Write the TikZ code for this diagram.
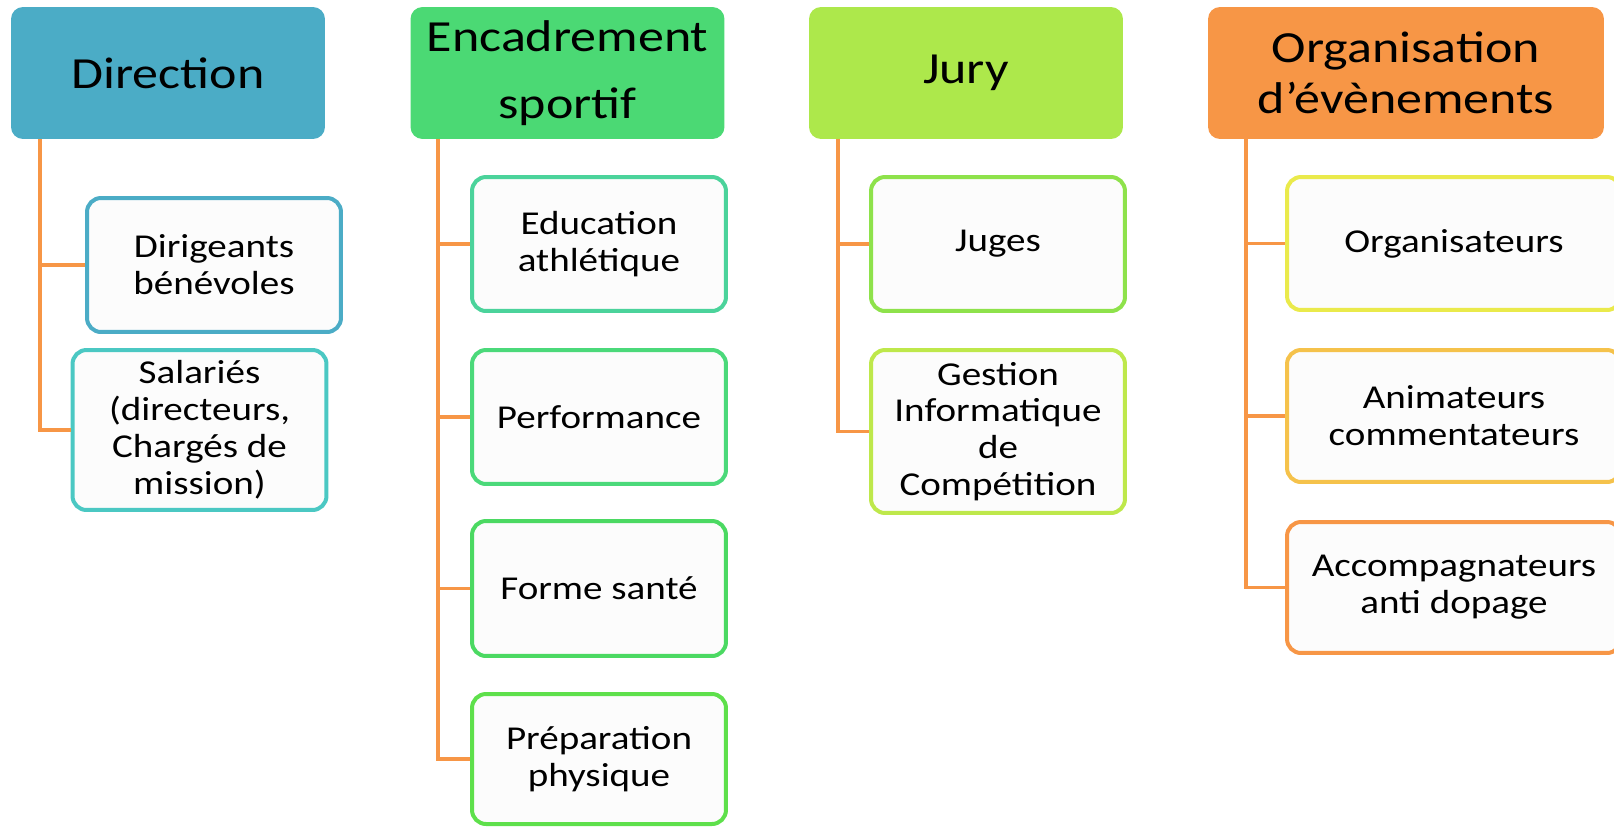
\documentclass[tikz,border=0pt]{standalone}
\usepackage{fontspec}
\setmainfont{Carlito}[FakeStretch=1.17]

\definecolor{dircol}{HTML}{4BACC6}
\definecolor{salarcol}{HTML}{4BC8C3}
\definecolor{enccol}{HTML}{4BD974}
\definecolor{educol}{HTML}{4BD39B}
\definecolor{perfcol}{HTML}{4BD97A}
\definecolor{formecol}{HTML}{4BD962}
\definecolor{prepcol}{HTML}{5EE04B}
\definecolor{jurycol}{HTML}{ADE84B}
\definecolor{jugescol}{HTML}{8EE24B}
\definecolor{gestcol}{HTML}{BEE84B}
\definecolor{orgcol}{HTML}{F79646}
\definecolor{orgscol}{HTML}{EAEA4B}
\definecolor{animcol}{HTML}{F5C24B}
\definecolor{linecol}{HTML}{F79646}
\definecolor{itemfill}{HTML}{FCFCFC}

\begin{document}
\begin{tikzpicture}[
		x=0.02cm, y=-0.02cm,
		head/.style={
			rectangle,
			rounded corners=0.24cm,
			inner sep=0pt,
			minimum width=6.28cm,
			minimum height=2.64cm,
			align=center,
			font=\fontsize{25.3}{29}\selectfont},
		item/.style={
			rectangle,
			rounded corners=0.28cm,
			line width=0.08cm,
			fill=itemfill,
			inner sep=0pt,
			minimum width=5.08cm,
			minimum height=2.68cm,
			align=center,
			font=\fontsize{19}{21}\selectfont},
		branch/.style={
			draw=linecol,
			line width=0.075cm},
		]

		\useasboundingbox (0,0) rectangle (1614,826);
		\clip (0,0) rectangle (1614,826);

		%Direction
		\node (direction)[head, fill=dircol] at (168,73) {Direction};
		\coordinate (dirtrunk) at ([xshift=0.58cm]direction.south west);
		\foreach \name/\txt/\x/\y/\h/\col in {dirig/{Dirigeants\\bénévoles}/214/265/2.68/dircol, salar/{Salariés\\(directeurs,\\Chargés de\\mission)}/199.5/430/3.2/salarcol}{
			\node (\name)[item, draw=\col, minimum height=\h cm] at (\x,\y) {\txt};
			\draw[branch] (dirtrunk) |- (\name.west);
		}

		%Encadrement sportif
		\node (encadr)[head, fill=enccol, font=\fontsize{25.3}{38.5}\selectfont] at (567.5,73) {Encadrement\\sportif};
		\coordinate (enctrunk) at ([xshift=0.56cm]encadr.south west);
		\foreach \name/\txt/\y/\h/\col in {educ/{Education\\athlétique}/244/2.68/educol, perf/Performance/417/2.68/perfcol, forme/Forme santé/588.5/2.7/formecol, prepa/{Préparation\\physique}/759/2.6/prepcol}{
			\node (\name)[item, draw=\col, minimum height=\h cm] at (599,\y) {\txt};
			\draw[branch] (enctrunk) |- (\name.west);
		}

		%Jury
		\node (jury)[head, fill=jurycol] at (966,73) {Jury};
		\coordinate (jurytrunk) at ([xshift=0.58cm]jury.south west);
		\foreach \name/\txt/\y/\h/\col in {juges/Juges/244/2.68/jugescol, gestion/{Gestion\\Informatique\\de\\Compétition}/431.5/3.26/gestcol}{
			\node (\name)[item, draw=\col, minimum height=\h cm] at (998,\y) {\txt};
			\draw[branch] (jurytrunk) |- (\name.west);
		}

		%Organisation d'evenements
		\node (orga)[head, fill=orgcol, minimum width=7.92cm] at (1406,73) {Organisation\\d’évènements};
		\coordinate (orgtrunk) at ([xshift=0.76cm]orga.south west);
		\foreach \name/\txt/\y/\h/\col in {orgs/Organisateurs/243.5/2.66/orgscol, anim/{Animateurs\\commentateurs}/416/2.64/animcol, accomp/{Accompagnateurs\\anti dopage}/587.5/2.62/orgcol}{
			\node (\name)[item, draw=\col, minimum width=6.68cm, minimum height=\h cm] at (1454,\y) {\txt};
			\draw[branch] (orgtrunk) |- (\name.west);
		}

	\end{tikzpicture}
\end{document}
